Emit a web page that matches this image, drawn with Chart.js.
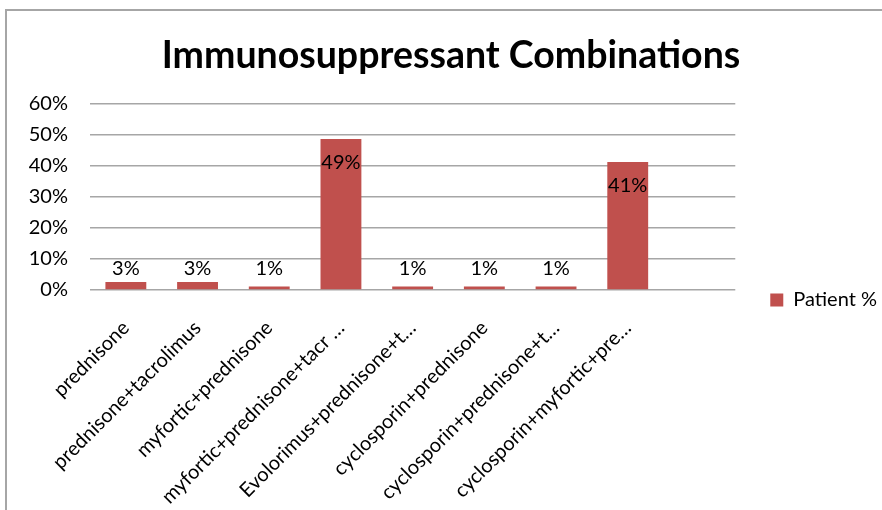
<!DOCTYPE html>
<html lang="en">
<head>
  <meta charset="UTF-8">
  <title>Immunosuppressant Combinations</title>
  <script src="https://cdn.jsdelivr.net/npm/chart.js"></script>
  <style>
    html, body { margin: 0; padding: 0; background: #fff; overflow: hidden; }
    body { width: 882px; height: 510px; position: relative; }
    .frame {
      position: absolute; left: 5px; top: 9px;
      border: 2px solid #a6a6a6;
      width: 888px; height: 578px;
    }
    canvas { display: block; }
  </style>
</head>
<body>
  <div class="frame">
    <canvas id="chart" width="888" height="578"></canvas>
  </div>

  <script>
    // Categories as shown on the axis (long names are cut off in the original)
    const categories = [
      'prednisone',
      'prednisone+tacrolimus',
      'myfortic+prednisone',
      'myfortic+prednisone+tacr …',
      'Evolorimus+prednisone+t…',
      'cyclosporin+prednisone',
      'cyclosporin+prednisone+t…',
      'cyclosporin+myfortic+pre…',
      ''
    ];
    // Patient share in percent
    const patientPct = [2.6, 2.6, 1.1, 48.7, 1.1, 1.1, 1.1, 41.3, null];
    const yTicks = [0, 10, 20, 30, 40, 50, 60];

    const FONT = 'Lato, "Open Sans", sans-serif';

    // Draws the "49%" style labels on the bars
    const barLabels = {
      id: 'barLabels',
      afterDatasetsDraw(chart) {
        const ctx = chart.ctx;
        const meta = chart.getDatasetMeta(0);
        const zeroY = chart.scales.y.getPixelForValue(0);
        ctx.save();
        ctx.font = '20px ' + FONT;
        ctx.fillStyle = '#000';
        ctx.textAlign = 'center';
        ctx.textBaseline = 'middle';
        meta.data.forEach((bar, i) => {
          const v = patientPct[i];
          if (v == null) return;
          const y = v > 10 ? bar.y + 24 : zeroY - 21;
          ctx.fillText(Math.round(v) + '%', bar.x, y);
        });
        ctx.restore();
      }
    };

    new Chart(document.getElementById('chart'), {
      type: 'bar',
      data: {
        labels: categories,
        datasets: [{
          label: 'Patient %',
          data: patientPct,
          backgroundColor: '#c0504d',
          borderWidth: 0,
          categoryPercentage: 1,
          barPercentage: 0.57
        }]
      },
      options: {
        responsive: false,
        animation: false,
        layout: { padding: { left: 8, right: 8, top: 0, bottom: 0 } },
        plugins: {
          title: {
            display: true,
            text: 'Immunosuppressant Combinations',
            color: '#000',
            font: { family: FONT, size: 37.5, weight: 'bold', lineHeight: 1.2 },
            padding: { top: 22, bottom: 26 }
          },
          legend: {
            position: 'right',
            labels: {
              color: '#000',
              font: { family: FONT, size: 20 },
              boxWidth: 13,
              boxHeight: 13,
              padding: 35
            }
          },
          tooltip: { enabled: false }
        },
        scales: {
          x: {
            grid: { display: false, drawTicks: false },
            border: { display: false },
            ticks: {
              color: '#000',
              font: { family: FONT, size: 20 },
              autoSkip: false,
              maxRotation: 45,
              minRotation: 45,
              padding: 26
            },
            afterFit(scale) { scale.height = 299; }
          },
          y: {
            min: 0,
            max: 60,
            afterBuildTicks(scale) { scale.ticks = yTicks.map(v => ({ value: v })); },
            grid: { color: '#a6a6a6', lineWidth: 1.5, drawTicks: false },
            border: { display: false },
            ticks: {
              color: '#000',
              font: { family: FONT, size: 20 },
              padding: 22,
              callback: v => v + '%'
            },
            afterFit(scale) { scale.width = 75; }
          }
        }
      },
      plugins: [barLabels]
    });
  </script>
</body>
</html>
